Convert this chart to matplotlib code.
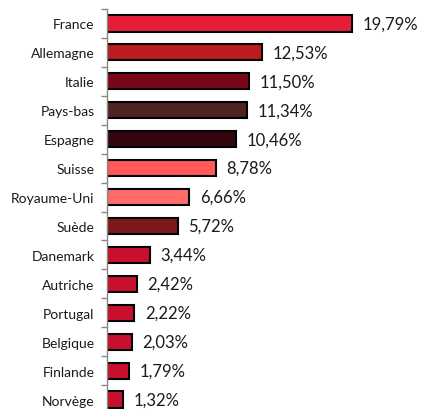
import matplotlib
matplotlib.use("Agg")
import matplotlib.pyplot as plt

countries = ["France", "Allemagne", "Italie", "Pays-bas", "Espagne", "Suisse",
             "Royaume-Uni", "Suède", "Danemark", "Autriche", "Portugal",
             "Belgique", "Finlande", "Norvège"]
values = [19.79, 12.53, 11.50, 11.34, 10.46, 8.78, 6.66, 5.72, 3.44, 2.42,
          2.22, 2.03, 1.79, 1.32]
colors = ["#E41E38", "#BD1C1E", "#7A0719", "#4E2320", "#33060E", "#FF5A5A",
          "#FF6B6B", "#7E1719", "#C8102C", "#C8102C", "#C8102C", "#C8102C",
          "#C8102C", "#C8102C"]

W, H = 422, 410
fig = plt.figure(figsize=(W / 100, H / 100), dpi=100)
left_px, top_px, bottom_px = 107, 10, 415
ax = fig.add_axes([left_px / W, (H - bottom_px) / H, (W - left_px) / W,
                   (bottom_px - top_px) / H])

n = len(countries)
ypos = list(range(n))
ax.barh(ypos, values, height=0.56, color=colors, edgecolor="black",
        linewidth=1.5, left=0)
ax.set_ylim(n - 0.5, -0.5)
xmax = (W - left_px) / ((352 - 107) / 19.79)
ax.set_xlim(0, xmax)

for y, v in zip(ypos, values):
    ax.text(v + 0.85, y, f"{v:.2f}%".replace(".", ","), va="center", ha="left",
            fontsize=12, family="Lato", color="#1a1a1a")

ax.set_yticks(ypos)
ax.set_yticklabels(countries, fontsize=10, family="Lato", color="#1a1a1a")
ax.set_yticks([i - 0.5 for i in range(n)], minor=True)
ax.tick_params(axis="y", which="major", length=0, pad=9)
ax.tick_params(axis="y", which="minor", length=4, color="#888888", width=1)
ax.set_xticks([])
for s in ["top", "right", "bottom"]:
    ax.spines[s].set_visible(False)
ax.spines["left"].set_color("#888888")
ax.spines["left"].set_linewidth(1)

fig.savefig("out.png", dpi=100)
